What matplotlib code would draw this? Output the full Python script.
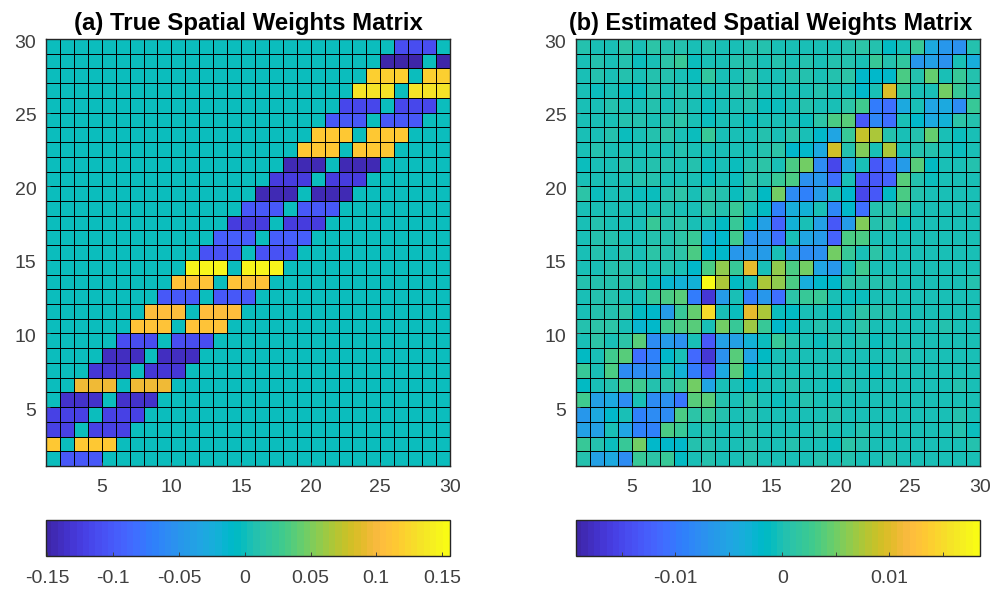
import numpy as np
import matplotlib
matplotlib.use("Agg")
import matplotlib.pyplot as plt
from matplotlib.colors import ListedColormap
from matplotlib.transforms import ScaledTranslation

plt.rcParams['font.family'] = ['Liberation Sans', 'DejaVu Sans']

parula = ListedColormap([
    [0.2422, 0.1504, 0.6603], [0.2504, 0.1650, 0.7076], [0.2578, 0.1818, 0.7511], [0.2647, 0.1978, 0.7952],
    [0.2706, 0.2147, 0.8364], [0.2751, 0.2342, 0.8710], [0.2783, 0.2559, 0.8991], [0.2803, 0.2782, 0.9221],
    [0.2813, 0.3006, 0.9414], [0.2810, 0.3228, 0.9579], [0.2795, 0.3447, 0.9717], [0.2760, 0.3667, 0.9829],
    [0.2699, 0.3892, 0.9906], [0.2602, 0.4123, 0.9952], [0.2440, 0.4358, 0.9988], [0.2206, 0.4603, 0.9973],
    [0.1963, 0.4847, 0.9892], [0.1834, 0.5074, 0.9798], [0.1786, 0.5289, 0.9682], [0.1764, 0.5499, 0.9520],
    [0.1687, 0.5703, 0.9359], [0.1540, 0.5902, 0.9218], [0.1460, 0.6091, 0.9079], [0.1380, 0.6276, 0.8973],
    [0.1248, 0.6459, 0.8883], [0.1113, 0.6635, 0.8763], [0.0952, 0.6798, 0.8598], [0.0689, 0.6948, 0.8394],
    [0.0297, 0.7082, 0.8163], [0.0036, 0.7203, 0.7917], [0.0067, 0.7312, 0.7660], [0.0433, 0.7411, 0.7394],
    [0.0964, 0.7500, 0.7120], [0.1408, 0.7584, 0.6842], [0.1717, 0.7670, 0.6554], [0.1938, 0.7758, 0.6251],
    [0.2161, 0.7843, 0.5923], [0.2470, 0.7918, 0.5567], [0.2906, 0.7973, 0.5188], [0.3406, 0.8008, 0.4789],
    [0.3909, 0.8029, 0.4354], [0.4456, 0.8024, 0.3909], [0.5044, 0.7993, 0.3480], [0.5616, 0.7942, 0.3045],
    [0.6174, 0.7876, 0.2612], [0.6720, 0.7793, 0.2227], [0.7242, 0.7698, 0.1910], [0.7738, 0.7598, 0.1646],
    [0.8203, 0.7498, 0.1535], [0.8634, 0.7406, 0.1596], [0.9035, 0.7330, 0.1774], [0.9393, 0.7288, 0.2100],
    [0.9728, 0.7298, 0.2394], [0.9956, 0.7434, 0.2371], [0.9970, 0.7659, 0.2199], [0.9952, 0.7861, 0.1991],
    [0.9892, 0.8136, 0.1885], [0.9786, 0.8386, 0.1766], [0.9676, 0.8639, 0.1643], [0.9610, 0.8890, 0.1537],
    [0.9597, 0.9135, 0.1423], [0.9628, 0.9373, 0.1265], [0.9691, 0.9606, 0.1064], [0.9769, 0.9839, 0.0805],
])

## (a) value of each row, bottom row first
true_row_values = [-0.100, 0.117, -0.120, -0.118, -0.133, 0.098, -0.130, -0.138, -0.112, 0.110,
                   0.105, -0.100, 0.110, 0.150, -0.105, -0.095, -0.125, -0.100, -0.145, -0.125,
                   -0.145, 0.115, 0.113, -0.100, -0.115, 0.135, 0.120, -0.148, -0.110]
## (a) filled columns in each row, bottom row first
true_row_cols = [
    [2, 3, 4], [1, 3, 4, 5], [1, 2, 4, 5, 6], [1, 2, 3, 5, 6, 7], [2, 3, 4, 6, 7, 8],
    [3, 4, 5, 7, 8, 9], [4, 5, 6, 8, 9, 10], [5, 6, 7, 9, 10, 11], [6, 7, 8, 10, 11, 12],
    [7, 8, 9, 11, 12, 13], [8, 9, 10, 12, 13, 14], [9, 10, 11, 13, 14, 15], [10, 11, 12, 14, 15, 16],
    [11, 12, 13, 15, 16, 17], [12, 13, 14, 16, 17, 18], [13, 14, 15, 17, 18, 19], [14, 15, 16, 18, 19, 20],
    [15, 16, 17, 19, 20, 21], [16, 17, 18, 20, 21, 22], [17, 18, 19, 21, 22, 23], [18, 19, 20, 22, 23, 24],
    [19, 20, 21, 23, 24, 25], [20, 21, 22, 24, 25, 26], [21, 22, 23, 25, 26, 27], [22, 23, 24, 26, 27, 28],
    [23, 24, 25, 27, 28, 29], [24, 25, 26, 28, 29], [25, 26, 27, 29], [26, 27, 28],
]

## (b) values in thousandths, bottom row first
est_rows = [
    [.6, -5.5, -4.5, -8, 2.5, 1.1, 2, -1.4, .1, .4, .1, .1, .4, .1, .1, -.1, .1, .4, .1, .4, .1, .1, .4, .1, -.1, .1, .1, -.1, .1],
    [2, .6, -.9, 2.5, 5.5, -2, -1.9, -1.9, .4, .6, .1, -.1, .4, .1, -.1, .4, .1, .1, -.5, 1.1, .6, .1, .1, -.1, -.1, -.1, .1, -.1, .6],
    [-5.5, -5.5, .1, -5, -9, -9, 3.5, 2.5, -.4, .6, .1, .1, .6, .1, .1, -.1, .1, .4, .1, .1, .4, .1, .1, -.1, .1, .1, .1, .6, -.9],
    [-6.5, -4.5, -1.9, -.4, -9, -8, -8, 3.5, .8, 2.5, .6, .1, .4, .1, -.1, .1, .1, .1, .4, .1, .1, -.1, .1, .1, -.1, -.1, .1, .4, .1],
    [3, -5.5, -4.5, -8, .1, -8, -7, -10, 4.2, 4.2, .6, -.4, 1.1, .1, -.9, -.1, .4, .1, -.1, .1, -.1, .1, .1, .1, -.1, .1, -.1, .1, .1],
    [-1.4, -.4, .6, 3, 3, .6, 1.1, 2.5, 5.5, -5, .1, -.4, -1.4, -.4, .1, .4, .1, -.1, -.5, .4, -.1, -.1, .1, .1, -.1, -.1, .1, .4, -.1],
    [2.5, -.4, 3.5, -8, -8, -8, .1, -3, -9.5, -13, -4, 4, -2, -.4, .1, .1, .1, -.1, -.1, .1, -.1, -.5, .1, -.1, .1, -.1, .1, .1, -.1],
    [-1.4, -.4, 3, 4, -11, -9, -2, .1, -11.5, -16.5, -7, 3.8, -5, -1.4, .1, .1, -.1, .1, .1, -.1, -.1, -.1, .1, .4, .1, -.1, .1, .1, -.1],
    [.1, 1.1, .1, 1.1, 4, -8, -6, -7, -.4, -13, -5.5, -5.5, -3, -.9, 2.5, .4, -.1, -.5, .4, .1, .4, -.6, -.4, .1, .1, -.1, .1, -.1, .1],
    [.6, 1.1, 1.1, .1, -2.5, -2, 3, 3.2, 4, .1, 5.5, 2, 6.8, 2.5, -1.9, -.9, .1, .6, -.4, .1, .8, -.1, .1, -.1, .1, .1, .6, -.1, .1],
    [.1, .4, .4, 1.1, -1.4, -2, -6, 2.5, 4.5, 15.5, .1, -.9, 10.8, 7.8, -.9, -1.4, .1, -.1, -.6, .1, .8, .4, .6, -.1, -.1, .1, .1, -.1, .1],
    [.1, .6, .6, .1, .1, 2, 3.5, 3.8, -9.5, -16.5, -6, -.4, -9.5, -6.5, -11, 1.1, 2, 2, -.4, -.7, -.9, .1, .1, -.1, .1, -.1, .1, -.1, -.1],
    [.4, .6, .4, .6, .8, -.9, -2.5, -3, -3, 18.5, 7.8, -1.4, .1, 7.5, 6.5, 3.5, -3.5, -2, -1.9, .8, 1.1, .4, .6, -.1, -.1, .1, -.1, .1, .4],
    [.1, .1, .6, .6, .1, .1, .6, .1, -1.9, 3.5, 6.5, 2.5, 10.5, .1, 6.5, 3.5, 5.5, -5, -6.5, -.1, 3, .1, -.1, -.1, -.1, .1, .1, -.1, .1],
    [.1, .4, .1, .6, .1, 1.1, .4, 1.1, 3.5, -2, -2, -6.5, -6, -6, .1, -6, -8, -7, 5.5, 2, .1, 1.1, -.4, .1, -.1, -.1, .1, -.1, -.1],
    [.1, .4, .4, .1, .1, .6, .4, .8, 2, -3, -2, 3, -7, -6.5, -11, .1, -5, -6, -12, 3.5, 3.5, .1, .1, .1, .1, .1, .1, -.1, -.1],
    [.1, .4, .1, .1, -.1, 2, .6, .8, .1, -.1, -1.4, 2.5, -1.9, -5.5, -12, -3, .1, -5.5, -13, -6, 6, .6, 1.1, -.9, .1, .1, -.1, .1, -.1],
    [.1, .1, .1, .1, -.1, .1, .6, -.1, .1, 1.1, .6, 2.5, .1, -1.4, -9, -3.5, -3, .1, -8.5, -2, -11, .6, .6, 2, .1, .1, -.1, -.1, .1],
    [.8, -.7, .1, .1, -.7, -.9, .6, .8, .1, 1.1, .4, -.9, 1.1, -1.2, 5.5, -8, -9, -6, .1, -2, -15, -13, -1.4, 3.5, .6, -.1, .1, -.1, .1],
    [.1, .1, -.4, .1, .3, .6, .1, .1, -.1, -.7, -.1, -.6, 1.1, .4, 2.5, 3.5, -7, -6.5, -11, .1, -13, -13, -12, 3.8, .6, -.9, -.1, -.1, .1],
    [-.7, .1, -.2, .4, .1, .4, .4, -.1, .6, -.6, -.1, -.6, .6, 1.1, .1, 3.5, 5.5, -8, -15, -5, .1, -13, -11, -6, 4, -1.4, -.1, -.1, .4],
    [.1, .6, -.1, .1, .1, -.4, .1, .6, -.1, .1, -.4, .1, -.4, .3, 1.1, -1.9, -2, -4.5, 9.5, .6, 6, -.1, 7.5, .1, .6, .6, -.1, -.9, .1],
    [.1, -.1, .6, -.6, .1, .4, 1.1, -.1, -.7, 2, .1, .1, -.1, .3, .1, 1.1, .1, -1.9, -5, 2.5, 8.8, 7.8, .4, -.1, .6, 4.5, .1, -.9, .1],
    [.1, .1, -.4, .6, .3, .1, .6, .9, .1, -.6, .1, -.1, -.5, .1, .1, -.4, -.9, 1.1, 3.5, 3.8, -13, -8.5, -11, -.1, -2, -4, -3, 1.1, .4],
    [-.1, .1, .6, .1, .1, .6, .1, .6, .1, -.5, .1, -.1, .3, -.5, -.7, .1, .4, .1, .1, 1.1, 3, -9.5, -11, -4, .1, -5, -4.5, -7.5, 2],
    [.1, -.7, -.4, -.6, -.9, .6, -.4, .4, -.1, .1, -.1, .3, 1.1, .1, -.1, .1, .1, .4, -.1, -.1, -2, -.1, 10, 2.5, -.1, -.1, 5, 2.5, .6],
    [.1, .4, .1, .4, -.1, .6, .6, .1, -.7, 1.8, .1, .1, 1.1, .1, .1, .4, .4, .1, .4, 1.1, -1.9, -1.9, -1.9, 3.5, .4, 4.5, .1, 2.5, .6],
    [-.1, .6, .1, .4, -.9, .1, 1.1, 2.5, -.7, .1, .1, .6, .6, -.1, .6, .1, .4, .1, .4, .6, .1, 2.2, .4, 1.8, -6.5, -5.5, -7, .1, -3.5],
    [.4, .1, .1, 1.1, -.1, 1.1, .4, .6, -.4, .6, -.4, .1, .4, .4, .1, .1, .1, .1, .1, .6, 1.1, .6, -1.4, .1, 2.3, -4.5, -6.5, -7, .6],
]

grid_edges = np.arange(1, 31)
axis_ticks = [5, 10, 15, 20, 25, 30]
axis_labels = ['5', '10', '15', '20', '25', '30']
true_clim = [-0.151, 0.156]
est_clim = [-0.0193, 0.0185]
true_cb_ticks = [-0.15, -0.1, -0.05, 0, 0.05, 0.1, 0.15]
true_cb_labels = ['-0.15', '-0.1', '-0.05', '0', '0.05', '0.1', '0.15']
est_cb_ticks = [-0.015, -0.01, -0.005, 0, 0.005, 0.01, 0.015]
est_cb_labels = ['', '-0.01', '', '0', '', '0.01', '']

true_w = np.zeros((29, 29))
for r in range(29):
    for c in true_row_cols[r]:
        true_w[r, c - 1] = true_row_values[r]
est_w = np.array(est_rows) / 1000.0

W, H = 995.0, 592.0
fig = plt.figure(figsize=(9.95, 5.92), dpi=100)
down = ScaledTranslation(0, -2.0 / 100, fig.dpi_scale_trans)


def panel(left, data, clim, title, title_x, title_size, cb_ticks, cb_labels):
    ax = fig.add_axes([left / W, 1 - 466 / H, 404 / W, 427 / H])
    mesh = ax.pcolormesh(grid_edges, grid_edges, data, cmap=parula, vmin=clim[0], vmax=clim[1],
                         edgecolors='black', linewidth=0.7, antialiased=True)
    ax.set_xlim(1, 30)
    ax.set_ylim(1, 30)
    ax.set_xticks(axis_ticks, axis_labels)
    ax.set_yticks(axis_ticks, axis_labels)
    ax.tick_params(direction='in', length=3, width=0.7, labelsize=14, colors='#404040')
    ax.tick_params(axis='x', pad=9)
    ax.tick_params(axis='y', pad=7)
    for lab in ax.get_yticklabels():
        lab.set_transform(lab.get_transform() + down)
    for s in ax.spines.values():
        s.set_linewidth(1.0)
        s.set_color('#262626')
    fig.text(title_x / W, 1 - 30 / H, title, ha='center', va='baseline', fontsize=title_size,
             fontweight='bold', color='black')

    cax = fig.add_axes([left / W, 1 - 556 / H, 404 / W, 36 / H])
    cb = fig.colorbar(mesh, cax=cax, orientation='horizontal')
    cb.solids.set_edgecolor('face')
    cb.set_ticks(cb_ticks, labels=cb_labels)
    cb.minorticks_off()
    cax.tick_params(direction='in', length=3, width=0.7, labelsize=14, colors='#404040', pad=10)
    cb.outline.set_linewidth(1.0)
    cb.outline.set_edgecolor('#262626')


panel(46, true_w, true_clim, '(a) True Spatial Weights Matrix', 248, 17.3, true_cb_ticks, true_cb_labels)
panel(576, est_w, est_clim, '(b) Estimated Spatial Weights Matrix', 771, 16.8, est_cb_ticks, est_cb_labels)

fig.savefig('out.png', dpi=100)
